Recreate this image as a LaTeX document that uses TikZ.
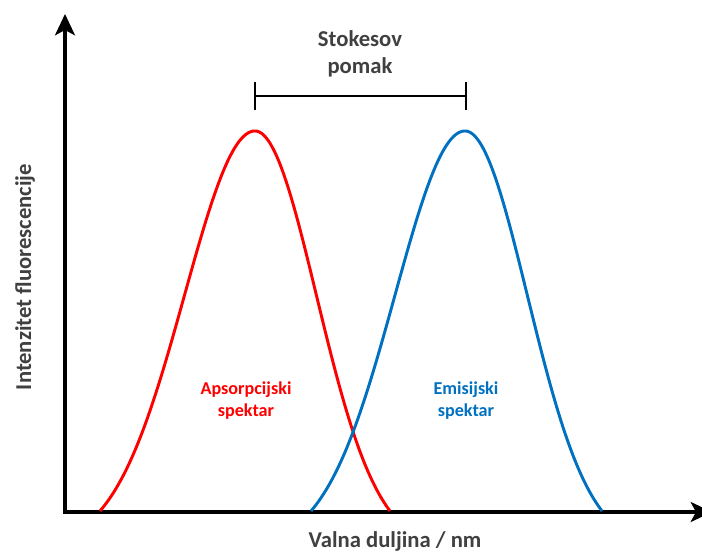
\documentclass[tikz,border=0pt]{standalone}
\usepackage{fontspec}
\setmainfont{Carlito}
\usepackage{tikz}
\usetikzlibrary{arrows.meta}
\definecolor{absred}{RGB}{255,0,0}
\definecolor{emblue}{RGB}{0,112,192}
\definecolor{txtgray}{RGB}{64,64,64}
\tikzset{
  axis/.style={line width=2.4pt,-{Stealth[length=16pt,width=15pt,inset=4pt]}},
  spectrum/.style={line width=2.2pt,line join=round},
  biglabel/.style={font=\fontsize{17}{20}\selectfont\bfseries,text=txtgray,align=center},
  smalllabel/.style={font=\fontsize{13.6}{16.5}\selectfont\bfseries,align=center},
}
% truncated gaussian: peak at #1, width #2
\newcommand{\gausspeak}[2]{511-380*(exp(-((\x-#1)/#2)^2/2)-0.0889)/0.9111}
\begin{document}
\begin{tikzpicture}[x=0.75pt,y=0.75pt,yscale=-1,xscale=1]
      \useasboundingbox (0,0) rectangle (702,552);
      \clip (0,0) rectangle (702,552);
      % axes
      \coordinate (origin) at (65,512);
      \coordinate (ytip) at (65,14);
      \coordinate (xtip) at (712,512);
      \draw [axis] (origin) -- (ytip);
      \draw [axis] ([xshift=-1.2pt]origin) -- (xtip);
      % absorption spectrum
      \draw [spectrum,absred] plot[domain=100:255,samples=70,smooth] (\x,{\gausspeak{255}{70.45}})
            -- plot[domain=255:390,samples=70,smooth] (\x,{\gausspeak{255}{61.36}});
      % emission spectrum
      \draw [spectrum,emblue] plot[domain=311:465,samples=70,smooth] (\x,{\gausspeak{465}{70.0}})
            -- plot[domain=465:602,samples=70,smooth] (\x,{\gausspeak{465}{62.27}});
      % stokes shift bracket
      \coordinate (sleft) at (255,96);
      \coordinate (sright) at (466,96);
      \draw [line width=2.2pt] (sleft) -- (sright);
      \draw [line width=2.2pt] ([yshift=-10.5pt]sleft) -- ([yshift=10.5pt]sleft);
      \draw [line width=2.2pt] ([yshift=-10.5pt]sright) -- ([yshift=10.5pt]sright);
      \node (stokes) at (360,54) [biglabel] {Stokesov\\pomak};
      \node (abslabel) at (246,401) [smalllabel,text=absred] {Apsorpcijski\\spektar};
      \node (emlabel) at (466,401) [smalllabel,text=emblue] {Emisijski\\spektar};
      \node (xlabel) at (395,541) [biglabel] {Valna duljina / nm};
      \node (ylabel) at (25,277) [biglabel,rotate=90] {Intenzitet fluorescencije};
    \end{tikzpicture}
\end{document}
